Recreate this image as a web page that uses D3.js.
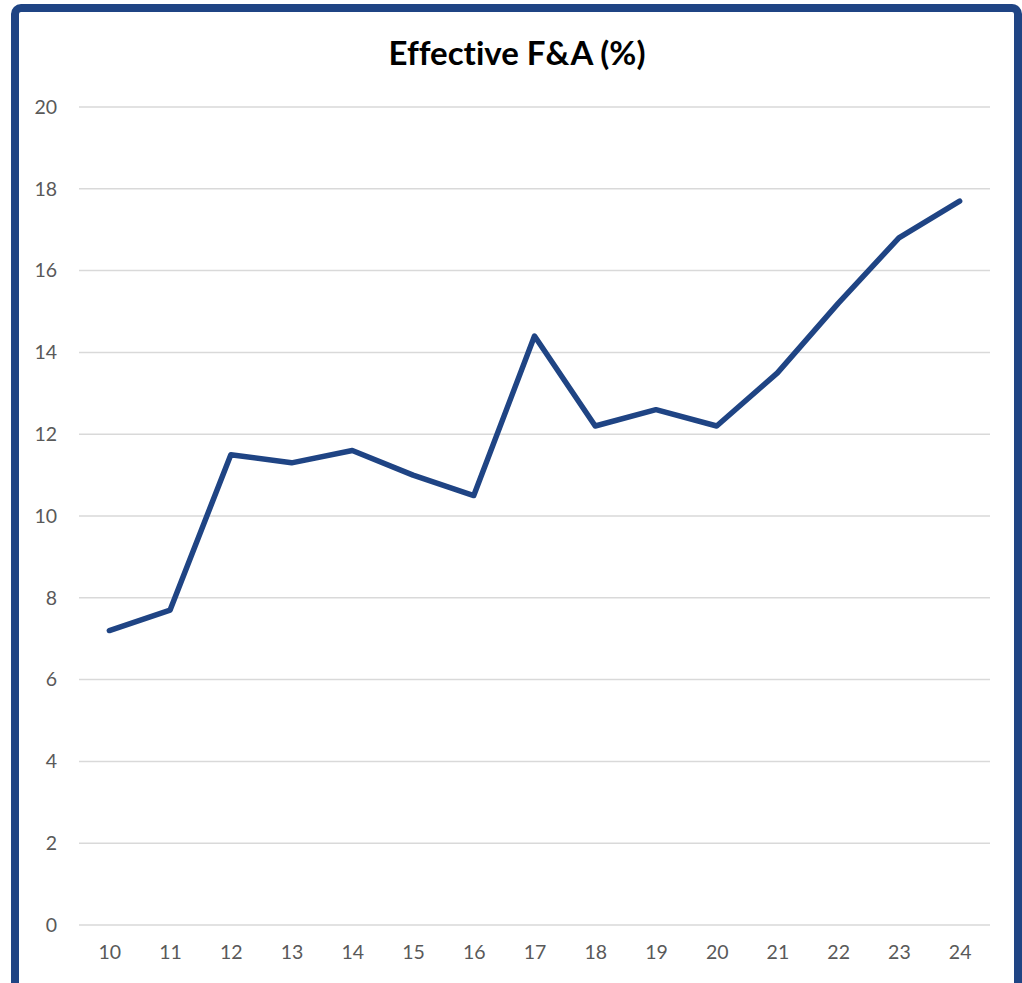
<!DOCTYPE html>
<html>
<head>
<meta charset="utf-8">
<script src="https://cdn.jsdelivr.net/npm/d3@7"></script>
<style>
  html, body { margin: 0; padding: 0; background: #fff; }
  svg { display: block; }
  text { font-variant-ligatures: none; }
</style>
</head>
<body>
<svg id="chart" width="1022" height="983"></svg>
<script>
// Fiscal years (two-digit) and effective F&A rate in percent
const years = ["10","11","12","13","14","15","16","17","18","19","20","21","22","23","24"];
const rates = [7.2, 7.7, 11.5, 11.3, 11.6, 11.0, 10.5, 14.4, 12.2, 12.6, 12.2, 13.5, 15.2, 16.8, 17.7];
const yTicks = [0, 2, 4, 6, 8, 10, 12, 14, 16, 18, 20];
const title = "Effective F&A (%)";

const svg = d3.select("#chart");
const blue = "#1f4484";
const font = "Lato, 'Open Sans', sans-serif";

// Frame around the chart
svg.append("rect")
  .attr("x", 15).attr("y", 8)
  .attr("width", 1003).attr("height", 1000)
  .attr("rx", 6)
  .attr("fill", "#fff")
  .attr("stroke", blue)
  .attr("stroke-width", 8);

const m = { left: 79, right: 990, top: 107, bottom: 925 };

const x = d3.scalePoint()
  .domain(years)
  .range([m.left, m.right])
  .padding(0.5);

const y = d3.scaleLinear()
  .domain([0, 20])
  .range([m.bottom, m.top]);

// Horizontal gridlines
svg.append("g")
  .selectAll("line")
  .data(yTicks)
  .join("line")
  .attr("x1", m.left).attr("x2", m.right)
  .attr("y1", d => y(d)).attr("y2", d => y(d))
  .attr("stroke", "#d9d9d9")
  .attr("stroke-width", 1.5);

// Y axis labels
const yAxis = d3.axisLeft(y).tickValues(yTicks).tickSize(0).tickPadding(0);
const gy = svg.append("g")
  .attr("transform", `translate(${m.left - 22},0)`)
  .call(yAxis);
gy.select(".domain").remove();
gy.selectAll("text")
  .attr("font-family", font)
  .attr("font-size", 19.5)
  .attr("fill", "#595959");

// X axis labels
const xAxis = d3.axisBottom(x).tickSize(0).tickPadding(0);
const gx = svg.append("g")
  .attr("transform", `translate(0,${m.bottom + 20})`)
  .call(xAxis);
gx.select(".domain").remove();
gx.selectAll("text")
  .attr("font-family", font)
  .attr("font-size", 19.5)
  .attr("fill", "#595959");

// Rate line
const line = d3.line()
  .x((d, i) => x(years[i]))
  .y(d => y(d));

svg.append("path")
  .datum(rates)
  .attr("d", line)
  .attr("fill", "none")
  .attr("stroke", blue)
  .attr("stroke-width", 5.5)
  .attr("stroke-linejoin", "round")
  .attr("stroke-linecap", "round");

// Title
svg.append("text")
  .attr("x", 517)
  .attr("y", 65)
  .attr("text-anchor", "middle")
  .attr("font-family", font)
  .attr("font-weight", "bold")
  .attr("font-size", 33)
  .attr("fill", "#000")
  .text(title);
</script>
</body>
</html>
